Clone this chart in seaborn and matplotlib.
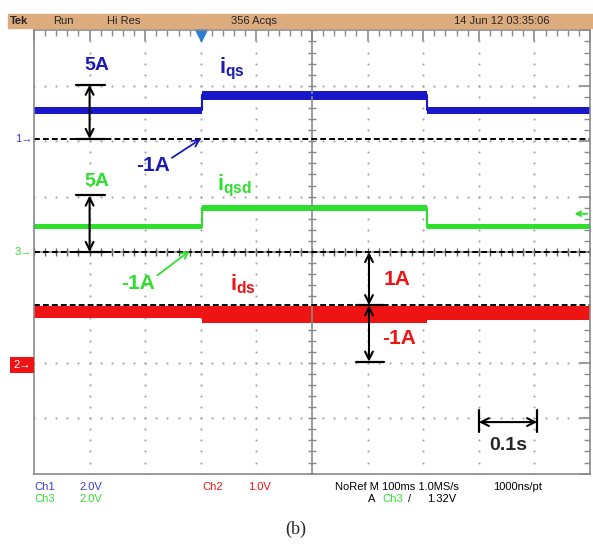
import numpy as np
import pandas as pd
import matplotlib
matplotlib.use("Agg")
import matplotlib.pyplot as plt
import seaborn as sns

# ------------------------------
# DATA (time in s, vertical in scope divisions)
# ------------------------------
t_edges = [-0.3, 0.002, 0.407, 0.7]          # step on / step off

blue_mid = [2.56, 2.83, 2.56]                 # i_qs trace
blue_half = [0.06, 0.08, 0.06]
green_mid = [0.46, 0.79, 0.46]                # i_qsd trace
green_half = [0.04, 0.05, 0.04]
red_top = [-0.98, -0.98, -0.98]               # i_ds trace (noise band)
red_bot = [-1.19, -1.28, -1.23]

ground_blue = 2.04
ground_green = 0.0
ground_red = -0.96
trig_level = 0.69

BLUE = "#1818c8"
GREEN = "#2ee02e"
RED = "#ee1414"

sns.set_style("white")
plt.rcParams["font.family"] = ["Liberation Sans", "DejaVu Sans"]
plt.rcParams["mathtext.fontset"] = "custom"
plt.rcParams["mathtext.bf"] = "Liberation Sans:bold"
plt.rcParams["mathtext.rm"] = "Liberation Sans:bold"

W, H = 593, 546
fig = plt.figure(figsize=(W / 100, H / 100), dpi=100)
fig.patch.set_facecolor("white")

def px(x, y):
    return x / W, 1 - y / H

ax = fig.add_axes([34 / W, 1 - 473.6 / H, 556 / W, 443.2 / H])
ax.set_xlim(-0.3, 0.7)
ax.set_ylim(-4, 4)

# ------------------------------
# GRATICULE
# ------------------------------
for s in ax.spines.values():
    s.set_color("#8a8a8a")
    s.set_linewidth(1.2)
ax.set_xticks(np.arange(-0.3, 0.71, 0.1))
ax.set_xticks(np.arange(-0.3, 0.701, 0.02), minor=True)
ax.set_yticks(np.arange(-4, 4.1, 1))
ax.set_yticks(np.arange(-4, 4.01, 0.2), minor=True)
ax.tick_params(which="both", direction="in", top=True, right=True,
               labelbottom=False, labelleft=False, color="#8a8a8a")
ax.tick_params(which="major", length=8, width=1.2)
ax.tick_params(which="minor", length=4, width=1)

gx = np.arange(-0.2, 0.7, 0.1)
gy = np.arange(-3, 4, 1)
dots_y = np.arange(-4, 4.01, 0.2)
dots_x = np.arange(-0.3, 0.701, 0.02)
for x in gx:
    if abs(x - 0.2) > 1e-6:
        ax.scatter(np.full_like(dots_y, x), dots_y, s=2.5, color="#a8a8a8", lw=0)
for y in gy:
    if y != 0:
        ax.scatter(dots_x, np.full_like(dots_x, y), s=2.5, color="#a8a8a8", lw=0)
ax.axvline(0.2, color="#8a8a8a", lw=1.2)
ax.axhline(0, color="#8a8a8a", lw=1.2)
ax.scatter(np.full_like(dots_y, 0.2), dots_y, marker="_", s=40, color="#8a8a8a", lw=1)
ax.scatter(dots_x, np.zeros_like(dots_x), marker="|", s=40, color="#606060", lw=1)

# ------------------------------
# GROUND REFERENCES
# ------------------------------
for g in [ground_blue, ground_green, ground_red]:
    sns.lineplot(x=[t_edges[0], t_edges[-1]], y=[g, g], color="black",
                 lw=1.4, linestyle=(0, (3, 1.6)), ax=ax)

# ------------------------------
# TRACES
# ------------------------------
tx = np.repeat(t_edges, 2)[1:-1]
for mid, half, col in [(blue_mid, blue_half, BLUE), (green_mid, green_half, GREEN)]:
    for i in range(3):
        ax.fill_between(t_edges[i:i + 2], mid[i] - half[i], mid[i] + half[i],
                        color=col, lw=0)
    df = pd.DataFrame({"t": tx, "v": np.repeat(mid, 2)})
    sns.lineplot(data=df, x="t", y="v", estimator=None, sort=False,
                 color=col, lw=1.5, ax=ax)

for i in range(3):
    ax.fill_between(t_edges[i:i + 2], red_bot[i], red_top[i], color=RED, lw=0)

# ------------------------------
# ANNOTATIONS
# ------------------------------
arr = dict(arrowstyle="<->", color="black", lw=1.5, shrinkA=0, shrinkB=0,
           mutation_scale=14)
ax.annotate("", xy=(-0.2, 3.02), xytext=(-0.2, ground_blue), arrowprops=arr)
ax.plot([-0.224, -0.172], [3.02, 3.02], color="black", lw=1.6)
ax.plot([-0.224, -0.172], [ground_blue, ground_blue], color="black", lw=1.6)
ax.annotate("", xy=(-0.2, 1.02), xytext=(-0.2, 0), arrowprops=arr)
ax.plot([-0.224, -0.172], [1.02, 1.02], color="black", lw=1.6)
ax.plot([-0.224, -0.172], [0, 0], color="black", lw=1.6)

ax.annotate("", xy=(0.3025, 0), xytext=(0.3025, ground_red), arrowprops=arr)
ax.annotate("", xy=(0.3025, ground_red), xytext=(0.3025, -1.98), arrowprops=arr)
ax.plot([0.28, 0.33], [-1.98, -1.98], color="black", lw=1.6)
ax.plot([0.28, 0.33], [ground_red, ground_red], color="black", lw=1.6)

ax.annotate("", xy=(0.5, -3.07), xytext=(0.605, -3.07), arrowprops=arr)
ax.plot([0.5, 0.5], [-2.85, -3.25], color="black", lw=1.6)
ax.plot([0.605, 0.605], [-2.85, -3.25], color="black", lw=1.6)
ax.text(0.553, -3.5, "0.1s", fontsize=14, fontweight="bold", ha="center", va="center")

ax.text(-0.187, 3.36, "5A", color="#1a1ab4", fontsize=14, fontweight="bold",
        ha="center", va="center")
ax.text(-0.187, 1.27, "5A", color=GREEN, fontsize=14, fontweight="bold",
        ha="center", va="center")
ax.text(0.056, 3.3, r"$\mathbf{i_{qs}}$", color="#1a1ab4", fontsize=16,
        ha="center", va="center")
ax.text(0.06, 1.2, r"$\mathbf{i_{qsd}}$", color=GREEN, fontsize=16,
        ha="center", va="center")
ax.text(0.076, -0.58, r"$\mathbf{i_{ds}}$", color=RED, fontsize=16,
        ha="center", va="center")

ax.text(-0.086, 1.57, "-1A", color="#1a1ab4", fontsize=15, fontweight="bold",
        ha="center", va="center")
ax.annotate("", xy=(0.0, ground_blue), xytext=(-0.052, 1.7),
            arrowprops=dict(arrowstyle="->", color="#1a1ab4", lw=1.3,
                            shrinkA=0, shrinkB=0, mutation_scale=12))
ax.text(-0.113, -0.56, "-1A", color=GREEN, fontsize=15, fontweight="bold",
        ha="center", va="center")
ax.annotate("", xy=(-0.02, 0.02), xytext=(-0.078, -0.42),
            arrowprops=dict(arrowstyle="->", color=GREEN, lw=1.3,
                            shrinkA=0, shrinkB=0, mutation_scale=12))

ax.text(0.353, -0.49, "1A", color=RED, fontsize=15, fontweight="bold",
        ha="center", va="center")
ax.text(0.356, -1.57, "-1A", color=RED, fontsize=15, fontweight="bold",
        ha="center", va="center")

# trigger markers
ax.plot(0, 3.92, marker="v", ms=8, color="#2a7fd4", clip_on=False)
ax.annotate("", xy=(0.672, trig_level), xytext=(0.695, trig_level),
            arrowprops=dict(arrowstyle="->", color=GREEN, lw=1.4,
                            shrinkA=0, shrinkB=0, mutation_scale=8))

# channel markers
fig.text(*px(32, 139), "1\u2192", color="#3a3ad0", fontsize=8, ha="right", va="center")
fig.text(*px(32, 252), "3\u2192", color=GREEN, fontsize=8, ha="right", va="center")
fig.text(*px(31, 365), "2\u2192", color="white", fontsize=8, ha="right", va="center",
         bbox=dict(facecolor=RED, edgecolor="none", pad=2.5))

# ------------------------------
# HEADER / FOOTER TEXT
# ------------------------------
fig.patches.append(plt.Rectangle(px(8, 28.4), (W - 8) / W, 14.8 / H,
                                 transform=fig.transFigure, color="#dcab7e",
                                 zorder=0))
hdr = dict(fontsize=8, va="center", family=["Liberation Sans Narrow", "Liberation Sans"])
fig.text(*px(10, 21), "Tek", fontweight="bold", **hdr)
fig.text(*px(53, 21), "Run", **hdr)
fig.text(*px(107, 21), "Hi Res", **hdr)
fig.text(*px(231, 21), "356 Acqs", **hdr)
fig.text(*px(454, 21), "14 Jun 12 03:35:06", **hdr)

ft = dict(fontsize=8, va="center", family=["Liberation Sans Narrow", "Liberation Sans"])
fig.text(*px(34, 487), "Ch1", color="#3a3ad0", **ft)
fig.text(*px(79, 487), "2.0V", color="#3a3ad0", **ft)
fig.text(*px(34, 499), "Ch3", color=GREEN, **ft)
fig.text(*px(79, 499), "2.0V", color=GREEN, **ft)
fig.text(*px(202, 487), "Ch2", color=RED, **ft)
fig.text(*px(248, 487), "1.0V", color=RED, **ft)
fig.text(*px(335, 487), "NoRef M 100ms 1.0MS/s", color="black", **ft)
fig.text(*px(493, 487), "1000ns/pt", color="black", **ft)
fig.text(*px(368, 499), "A", color="black", **ft)
fig.text(*px(382, 499), "Ch3", color=GREEN, **ft)
fig.text(*px(408, 499), "/", color="black", **ft)
fig.text(*px(427, 499), "1.32V", color="black", **ft)

fig.text(*px(296, 529), "(b)", fontsize=13, family="Liberation Serif",
         ha="center", va="center")

ax.set_xlabel("")
ax.set_ylabel("")
fig.savefig("out.png", dpi=100)
